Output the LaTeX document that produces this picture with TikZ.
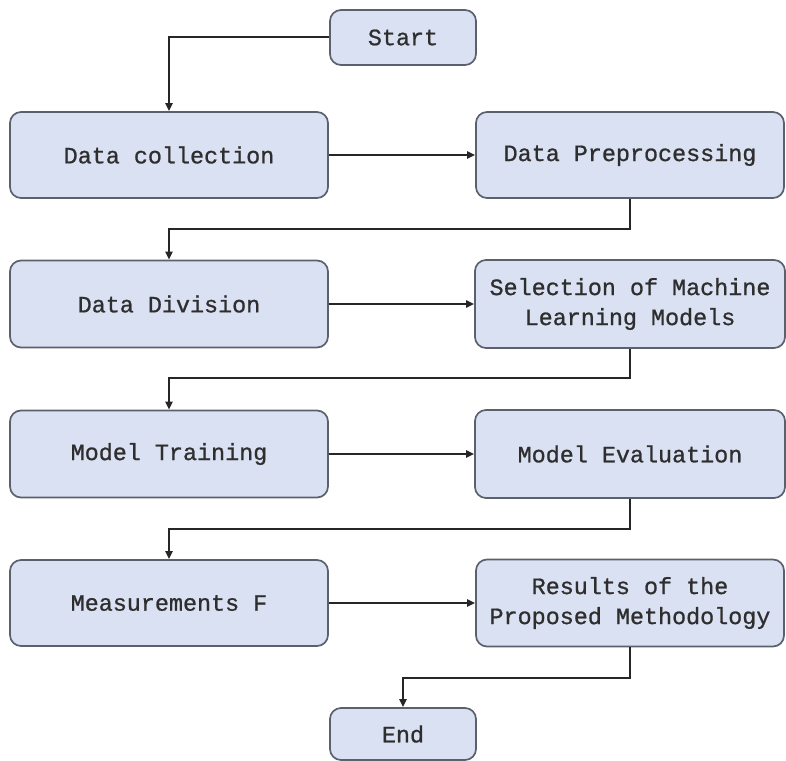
\documentclass[tikz,border=0pt]{standalone}
\usepackage{fontspec}
\newfontfamily\boxfont{Liberation Mono}[FakeBold=0.9]
\usetikzlibrary{arrows.meta}
\definecolor{boxfill}{HTML}{DAE1F2}
\definecolor{boxdraw}{HTML}{5A616D}
\definecolor{txt}{HTML}{2E2E2E}
\definecolor{lnk}{HTML}{262626}
\tikzset{
  box/.style={draw=boxdraw, line width=1.7pt, fill=boxfill, rounded corners=11pt,
    text=txt, font=\boxfont\fontsize{23.4}{30}\selectfont, align=center, inner sep=0pt},
  link/.style={draw=lnk, line width=2pt, -{Triangle[length=8pt,width=7pt]}}
}
\begin{document}
\begin{tikzpicture}[x=1pt,y=-1pt]
\useasboundingbox (0,0) rectangle (786,760);
\node[box, minimum width=146pt, minimum height=55pt] (start) at (403,37.5) {Start};
\node[box, minimum width=318pt, minimum height=86pt] (dc) at (169,155) {Data collection};
\node[box, minimum width=308pt, minimum height=86pt] (dp) at (630,155) {Data Preprocessing};
\node[box, minimum width=318pt, minimum height=87pt] (dd) at (169,304) {Data Division};
\node[box, minimum width=310pt, minimum height=88pt] (sel) at (630,304) {Selection of Machine\\Learning Models};
\node[box, minimum width=318pt, minimum height=87pt] (mt) at (169,454) {Model Training};
\node[box, minimum width=310pt, minimum height=88pt] (me) at (630,454) {Model Evaluation};
\node[box, minimum width=318pt, minimum height=86pt] (mf) at (169,603) {Measurements F};
\node[box, minimum width=308pt, minimum height=87pt] (res) at (630,603) {Results of the\\Proposed Methodology};
\node[box, minimum width=146pt, minimum height=52pt] (end) at (403,734) {End};

\draw[link] (start.west) -| (dc.north);
\draw[link] (dc.east) -- (dp.west);
\draw[link] (dd.east) -- (sel.west);
\draw[link] (mt.east) -- (me.west);
\draw[link] (mf.east) -- (res.west);
\draw[link] (dp.south) -- ++(0,30) -| (dd.north);
\draw[link] (sel.south) -- ++(0,29) -| (mt.north);
\draw[link] (me.south) -- ++(0,30) -| (mf.north);
\draw[link] (res.south) -- ++(0,31) -| (end.north);
\end{tikzpicture}
\end{document}
